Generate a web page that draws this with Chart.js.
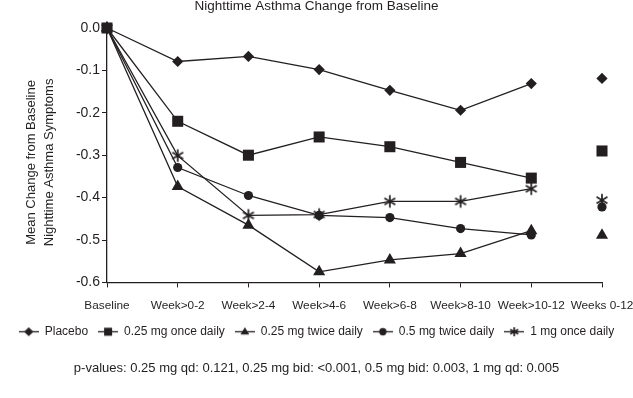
<!DOCTYPE html>
<html lang="en">
<head>
  <meta charset="UTF-8" />
  <title>Nighttime Asthma Change from Baseline</title>
  <script src="https://cdn.jsdelivr.net/npm/chart.js"></script>
  <style>
    body { margin: 0; background: #fff; }
    canvas { display: block; }
  </style>
</head>
<body>
  <canvas id="asthmaChart" width="633" height="398"></canvas>

  <script>
    // x categories and the five treatment series (mean change from baseline)
    const categories = ['Baseline', 'Week>0-2', 'Week>2-4', 'Week>4-6', 'Week>6-8', 'Week>8-10', 'Week>10-12', 'Weeks 0-12'];
    const placebo  = [0, -0.079, -0.067, -0.098, -0.147, -0.194, -0.131, -0.119];
    const qd025    = [0, -0.220, -0.300, -0.257, -0.280, -0.317, -0.354, -0.290];
    const bid025   = [0, -0.374, -0.465, -0.575, -0.547, -0.532, -0.478, -0.489];
    const bid05    = [0, -0.329, -0.395, -0.442, -0.447, -0.473, -0.488, -0.422];
    const qd1      = [0, -0.301, -0.442, -0.440, -0.409, -0.409, -0.379, -0.406];
    const seriesNames = ['Placebo', '0.25 mg once daily', '0.25 mg twice daily', '0.5 mg twice daily', '1 mg once daily'];
    const seriesData = [placebo, qd025, bid025, bid05, qd1];
    const yTicks = [0, -0.1, -0.2, -0.3, -0.4, -0.5, -0.6];
    const pValues = 'p-values: 0.25 mg qd: 0.121, 0.25 mg bid: <0.001, 0.5 mg bid: 0.003, 1 mg qd: 0.005';

    const ink = '#231f20';
    const markers = ['diamond', 'square', 'triangle', 'circle', 'star'];

    // the original uses a condensed sans; use Liberation Sans Narrow when it is there
    function narrowAvailable() {
      const ctx = document.createElement('canvas').getContext('2d');
      ctx.font = "20px 'Liberation Sans'";
      const w1 = ctx.measureText('Nighttime Asthma Change').width;
      ctx.font = "20px 'Liberation Sans Narrow', 'Liberation Sans'";
      const w2 = ctx.measureText('Nighttime Asthma Change').width;
      return w2 < w1 * 0.92;
    }
    const narrow = narrowAvailable();
    const fontFamily = narrow ? "'Liberation Sans Narrow', 'Liberation Sans', Arial, sans-serif" : "'Liberation Sans', Arial, sans-serif";
    const k = narrow ? 1.2 : 1;
    const font = (size, lh) => ({ family: fontFamily, size: size * k, weight: 'normal', lineHeight: lh + 'px' });

    // draws a marker on a small canvas (legend icons get a short line through them)
    function drawMarker(ctx, kind, cx, cy, r) {
      ctx.fillStyle = ink;
      ctx.strokeStyle = ink;
      ctx.beginPath();
      if (kind === 'diamond') {
        ctx.moveTo(cx, cy - r); ctx.lineTo(cx + r, cy); ctx.lineTo(cx, cy + r); ctx.lineTo(cx - r, cy);
        ctx.closePath(); ctx.fill();
      } else if (kind === 'square') {
        ctx.rect(cx - r * 0.8, cy - r * 0.8, r * 1.6, r * 1.6); ctx.fill();
      } else if (kind === 'triangle') {
        ctx.moveTo(cx, cy - r); ctx.lineTo(cx + r * 0.95, cy + r * 0.6); ctx.lineTo(cx - r * 0.95, cy + r * 0.6);
        ctx.closePath(); ctx.fill();
      } else if (kind === 'circle') {
        ctx.arc(cx, cy, r * 0.8, 0, Math.PI * 2); ctx.fill();
      } else if (kind === 'star') {
        ctx.lineWidth = 1.7;
        for (const a of [90, 30, 150]) {
          const dx = Math.cos(a * Math.PI / 180) * r, dy = Math.sin(a * Math.PI / 180) * r;
          ctx.moveTo(cx - dx, cy - dy); ctx.lineTo(cx + dx, cy + dy);
        }
        ctx.stroke();
      }
    }

    function markerCanvas(kind, r, lineLen) {
      const c = document.createElement('canvas');
      c.width = lineLen || Math.ceil(r * 2 + 3);
      c.height = Math.ceil(r * 2 + 3);
      const ctx = c.getContext('2d');
      const cx = c.width / 2, cy = c.height / 2;
      if (lineLen) {
        ctx.strokeStyle = ink;
        ctx.lineWidth = 1.3;
        ctx.beginPath(); ctx.moveTo(0, cy); ctx.lineTo(c.width, cy); ctx.stroke();
      }
      drawMarker(ctx, kind, cx, cy, r);
      return c;
    }

    const pointStyles = {
      diamond: { style: 'rectRot', radius: 5.6 },
      square: { style: 'rect', radius: 7.8 },
      triangle: { style: 'triangle', radius: 7 },
      circle: { style: 'circle', radius: 4.6 },
      star: { style: markerCanvas('star', 6.3), radius: 6 }
    };
    const legendIcons = markers.map(m => markerCanvas(m, m === 'square' ? 5 : 4.6, 20));

    const lastIdx = categories.length - 1;
    const datasets = seriesData.map((values, i) => {
      const ps = pointStyles[markers[i]];
      return {
        label: seriesNames[i],
        data: values,
        borderColor: ink,
        backgroundColor: ink,
        borderWidth: 1.3,
        pointStyle: ps.style,
        pointRadius: ps.radius,
        pointBackgroundColor: ink,
        pointBorderColor: ink,
        pointBorderWidth: 0,
        tension: 0,
        clip: false,
        order: markers[i] === 'square' ? 0 : 1,
        // the overall Weeks 0-12 value stands on its own
        segment: {
          borderColor: ctx => ctx.p1DataIndex === lastIdx ? 'rgba(0,0,0,0)' : ink
        }
      };
    });

    new Chart(document.getElementById('asthmaChart'), {
      type: 'line',
      data: { labels: categories, datasets: datasets },
      options: {
        responsive: false,
        animation: false,
        layout: { padding: 0 },
        plugins: {
          tooltip: { enabled: false },
          title: {
            display: true,
            text: 'Nighttime Asthma Change from Baseline',
            color: ink,
            font: font(13.5, 16.2),
            padding: { top: -2, bottom: 13.8 }
          },
          subtitle: {
            display: true,
            position: 'bottom',
            text: pValues,
            color: ink,
            font: font(13, 15.6),
            padding: { top: 12.5, bottom: 22.2 }
          },
          legend: {
            position: 'bottom',
            labels: {
              usePointStyle: true,
              pointStyleWidth: 20,
              boxHeight: 12,
              padding: 10,
              color: ink,
              font: font(12, 14.4),
              generateLabels: () => seriesNames.map((name, i) => ({
                text: name,
                pointStyle: legendIcons[i],
                fillStyle: 'rgba(0,0,0,0)',
                strokeStyle: 'rgba(0,0,0,0)',
                lineWidth: 0,
                fontColor: ink,
                hidden: false,
                datasetIndex: i
              }))
            }
          }
        },
        scales: {
          x: {
            offset: false,
            grid: { display: true, drawOnChartArea: false, drawTicks: true, tickLength: 5, color: ink, lineWidth: 1 },
            border: { display: true, color: ink, width: 1.3 },
            ticks: { color: ink, font: font(11.8, 14.4), padding: 11, maxRotation: 0, autoSkip: false },
            afterFit: s => { s.height = 33.3; s.paddingRight = 31; }
          },
          y: {
            min: -0.6,
            max: 0,
            afterBuildTicks: s => { s.ticks = yTicks.map(v => ({ value: v })); },
            ticks: { color: ink, font: font(14, 16.8), padding: 2, callback: v => Number(v).toFixed(1) },
            grid: { display: true, drawOnChartArea: false, drawTicks: true, tickLength: 5, color: ink, lineWidth: 1 },
            border: { display: true, color: ink, width: 1.3 },
            title: {
              display: true,
              // trailing spaces nudge the label a little below the axis centre, as in the original
              text: ['Mean Change from Baseline    ', 'Nighttime Asthma Symptoms    '],
              color: ink,
              font: font(13, 18),
              padding: { top: 22, bottom: 0 }
            },
            afterFit: s => { s.width = 107; }
          }
        }
      }
    });
  </script>
</body>
</html>
